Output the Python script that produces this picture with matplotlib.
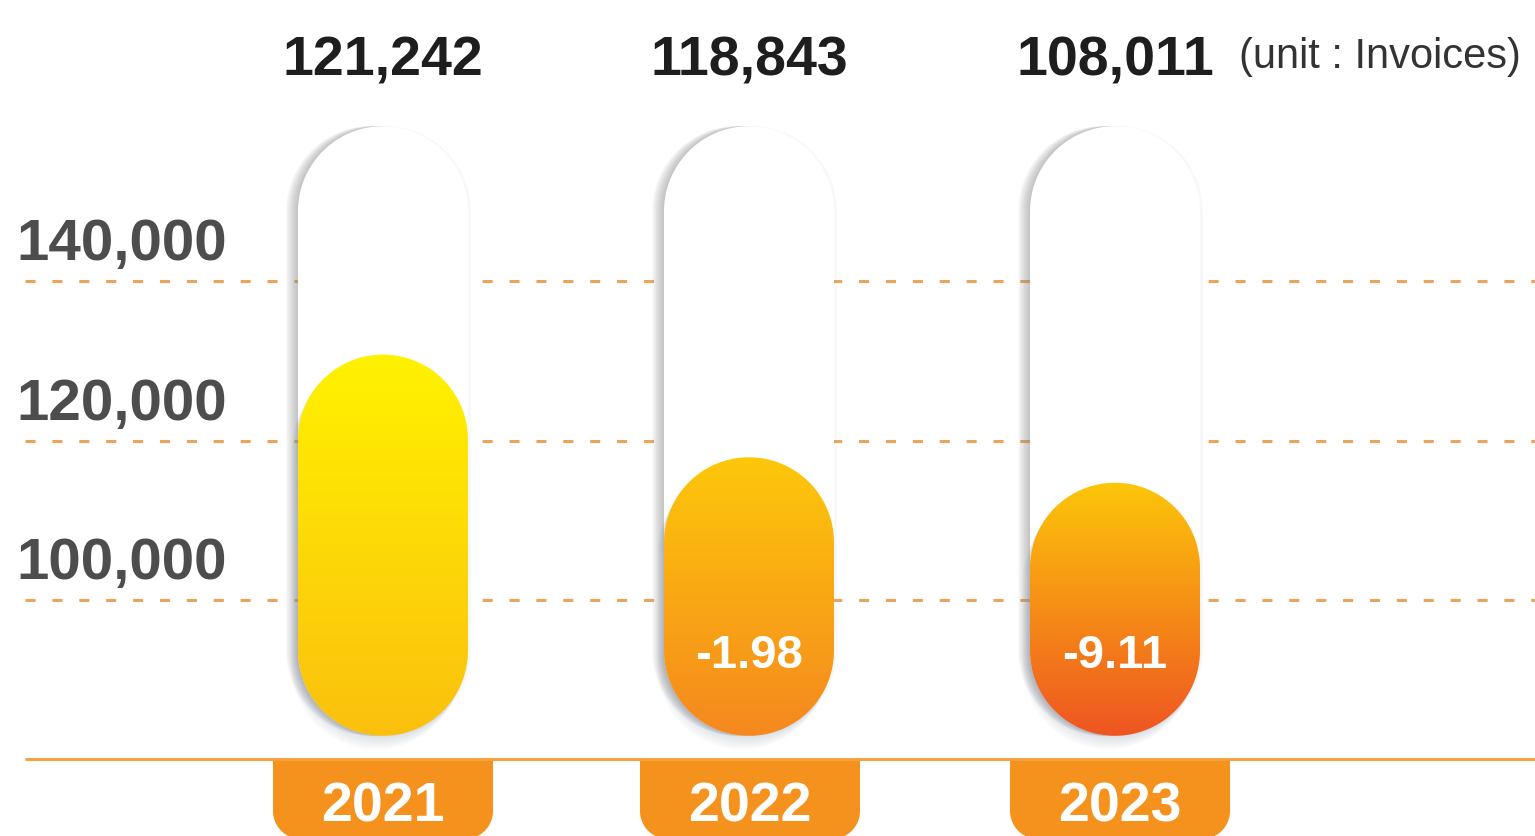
import numpy as np
import matplotlib.pyplot as plt
from matplotlib.patches import Polygon
from matplotlib.colors import LinearSegmentedColormap

# ------------------------------------------------------------
# Daten
# ------------------------------------------------------------
years = ["2021", "2022", "2023"]
invoices = [121242, 118843, 108011]
change_pct = ["", "-1.98", "-9.11"]
bar_levels = [130800, 117900, 114700]
bar_base = 82900
track_top = 159500
grid_ticks = [100000, 120000, 140000]
baseline = 80000

grad_top = ["#FFF200", "#FDC80A", "#FDC60A"]
grad_bottom = ["#FBC00E", "#F5881F", "#EE5522"]

W, H = 1535, 837
x_lim = (-1.0464, 3.1475)
y_lim = (70314, 175476)
px_x = (x_lim[1] - x_lim[0]) / W
px_y = (y_lim[1] - y_lim[0]) / H

FONT = ["Liberation Sans", "DejaVu Sans"]


def capsule(xc, y0, y1, hw):
    """ Kapsel (Balken mit runden Enden) in Datenkoordinaten """
    ry = hw / px_x * px_y
    t = np.linspace(0, np.pi, 60)
    top = np.column_stack([xc + hw * np.cos(t), y1 - ry + ry * np.sin(t)])
    bot = np.column_stack([xc - hw * np.cos(t), y0 + ry - ry * np.sin(t)])
    return np.vstack([top, bot])


def tab(xc, hw, y_top, y_bot, r_px):
    """ Jahres-Reiter: oben eckig, unten abgerundet """
    rx, ry = r_px * px_x, r_px * px_y
    t = np.linspace(0, np.pi / 2, 20)
    right = np.column_stack([xc + hw - rx + rx * np.cos(t), y_bot + ry - ry * np.sin(t)])
    left = np.column_stack([xc - hw + rx - rx * np.sin(t), y_bot + ry - ry * np.cos(t)])
    pts = [[xc - hw, y_top], [xc + hw, y_top]]
    return np.vstack([pts, right, left])


fig = plt.figure(figsize=(W / 100, H / 100), dpi=100)
ax = fig.add_axes([0, 0, 1, 1])
ax.axis("off")

x = np.arange(len(years))
tab_shift = [0, 1, 5]   # Reiter leicht versetzt wie im Original (px)
hw = 85 * px_x

# gestrichelte Gitterlinien
ax.hlines(grid_ticks, x_lim[0] + 25 * px_x, x_lim[1], colors="#E9A55C",
          linewidth=2.2, linestyles=(0, (3.3, 5.5)), zorder=1)
for t in grid_ticks:
    ax.annotate(f"{t:,}", (x_lim[0] + 227 * px_x, t), xytext=(0, 15.8),
                textcoords="offset points", ha="right", va="baseline",
                fontsize=42, fontweight="bold", color="#4D4D4D", family=FONT)

# Grundlinie
ax.hlines(baseline, x_lim[0] + 25 * px_x, x_lim[1], colors="#F5A243",
          linewidth=2.2, zorder=2)

for i, xc in enumerate(x):
    # weisse Schiene mit Schatten links
    for k in range(1, 13):
        ax.add_patch(Polygon(capsule(xc - k * px_x, bar_base, track_top, hw),
                             closed=True, facecolor="#8A8A8A", edgecolor="none",
                             alpha=0.05, zorder=2))
    ax.add_patch(Polygon(capsule(xc + 3 * px_x, bar_base, track_top, hw),
                         closed=True, facecolor="#B0B0B0", edgecolor="none",
                         alpha=0.08, zorder=2))
    ax.add_patch(Polygon(capsule(xc, bar_base, track_top, hw), closed=True,
                         facecolor="white", edgecolor="none", zorder=3))

    # Schatten unter dem Balken
    for k in range(1, 10):
        ax.add_patch(Polygon(capsule(xc - k * 0.8 * px_x, bar_base - k * 1.5 * px_y,
                                     bar_levels[i] - k * 1.5 * px_y, hw),
                             closed=True, facecolor="#8A9AB0", edgecolor="none",
                             alpha=0.03, zorder=4))

    # Balken mit Farbverlauf
    poly = Polygon(capsule(xc, bar_base, bar_levels[i], hw), closed=True,
                   facecolor="none", edgecolor="none", zorder=5)
    ax.add_patch(poly)
    cmap = LinearSegmentedColormap.from_list(f"g{i}", [grad_bottom[i], grad_top[i]])
    im = ax.imshow(np.linspace(0, 1, 256).reshape(-1, 1), cmap=cmap, origin="lower",
                   extent=[xc - hw, xc + hw, bar_base, bar_levels[i]],
                   aspect="auto", zorder=5, interpolation="bilinear")
    im.set_clip_path(poly)

    if change_pct[i]:
        ax.annotate(change_pct[i], (xc, bar_base), xytext=(0, 49.7),
                    textcoords="offset points", ha="center", va="baseline",
                    fontsize=34, fontweight="bold", color="white", family=FONT,
                    zorder=6)

    # Wert oben
    ax.text(xc, 1 - 75 / H, f"{invoices[i]:,}", transform=ax.get_xaxis_transform(),
            ha="center", va="baseline", fontsize=40, fontweight="bold",
            color="#1E1E1E", family=FONT)

    # Jahres-Reiter
    tx = xc + tab_shift[i] * px_x
    ax.add_patch(Polygon(tab(tx, 110 * px_x, baseline - 2 * px_y, y_lim[0] - 3 * px_y, 28),
                         closed=True, facecolor="#F5921E", edgecolor="none", zorder=3))
    ax.text(tx, 1 - 822 / H, years[i], transform=ax.get_xaxis_transform(),
            ha="center", va="baseline", fontsize=40, fontweight="bold",
            color="white", family=FONT, zorder=6)

# Einheit
ax.annotate("(unit : Invoices)", (x[-1], 1 - 68 / H), xycoords=ax.get_xaxis_transform(),
            xytext=(89, 0), textcoords="offset points", ha="left", va="baseline",
            fontsize=30, color="#333333", family=FONT)

ax.set_xlim(*x_lim)
ax.set_ylim(*y_lim)

fig.savefig("out.png", dpi=100)
